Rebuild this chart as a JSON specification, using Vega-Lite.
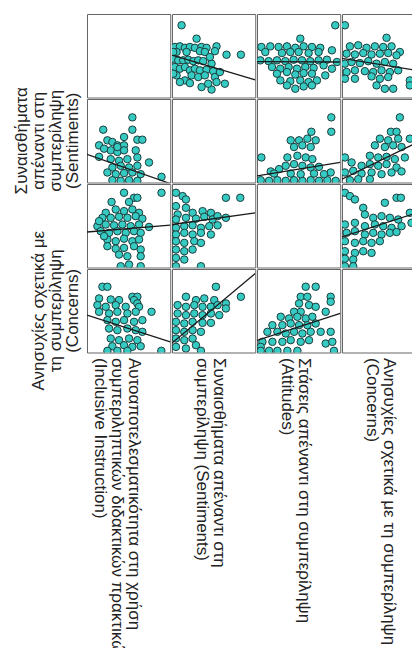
{
  "$schema": "https://vega.github.io/schema/vega-lite/v6.json",
  "background": "white",
  "padding": {"left": 13, "top": 13, "right": 0, "bottom": 0},
  "data": {
    "values": [
      {"r":1,"c":2,"x":1.46,"y":4.46},{"r":1,"c":2,"x":2.18,"y":3.82},{"r":1,"c":2,"x":1.14,"y":3.42},{"r":1,"c":2,"x":1.38,"y":3.45},{"r":1,"c":2,"x":1.62,"y":3.38},{"r":1,"c":2,"x":1.86,"y":3.42},{"r":1,"c":2,"x":2.10,"y":3.38},{"r":1,"c":2,"x":2.42,"y":3.42},{"r":1,"c":2,"x":2.66,"y":3.38},{"r":1,"c":2,"x":3.14,"y":3.45},{"r":1,"c":2,"x":1.22,"y":3.18},{"r":1,"c":2,"x":1.70,"y":3.18},{"r":1,"c":2,"x":2.34,"y":3.22},{"r":1,"c":2,"x":2.58,"y":3.18},{"r":1,"c":2,"x":3.06,"y":3.22},{"r":1,"c":2,"x":3.62,"y":3.05},{"r":1,"c":2,"x":4.31,"y":3.05},{"r":1,"c":2,"x":1.06,"y":2.86},{"r":1,"c":2,"x":1.30,"y":2.78},{"r":1,"c":2,"x":1.54,"y":2.78},{"r":1,"c":2,"x":1.78,"y":2.81},{"r":1,"c":2,"x":2.02,"y":2.74},{"r":1,"c":2,"x":2.26,"y":2.78},{"r":1,"c":2,"x":2.50,"y":2.74},{"r":1,"c":2,"x":2.90,"y":2.62},{"r":1,"c":2,"x":1.14,"y":2.46},{"r":1,"c":2,"x":1.38,"y":2.38},{"r":1,"c":2,"x":1.62,"y":2.46},{"r":1,"c":2,"x":1.86,"y":2.30},{"r":1,"c":2,"x":2.10,"y":2.38},{"r":1,"c":2,"x":2.34,"y":2.30},{"r":1,"c":2,"x":2.66,"y":2.33},{"r":1,"c":2,"x":2.98,"y":2.26},{"r":1,"c":2,"x":1.22,"y":2.06},{"r":1,"c":2,"x":1.62,"y":1.82},{"r":1,"c":2,"x":1.94,"y":2.06},{"r":1,"c":2,"x":2.26,"y":1.98},{"r":1,"c":2,"x":2.58,"y":2.06},{"r":1,"c":2,"x":3.06,"y":1.98},{"r":1,"c":2,"x":3.14,"y":1.74},{"r":1,"c":2,"x":3.54,"y":1.66},{"r":1,"c":2,"x":2.42,"y":1.50},{"r":1,"c":2,"x":2.90,"y":1.38},{"r":1,"c":2,"x":1.38,"y":1.74},{"r":1,"c":2,"x":1.86,"y":1.69},{"r":1,"c":2,"x":2.74,"y":1.66},{"r":1,"c":2,"x":1.06,"y":3.18},{"r":1,"c":2,"x":1.06,"y":2.14},{"r":1,"c":2,"x":2.82,"y":2.94},{"r":1,"c":2,"x":3.30,"y":2.22},
      {"r":1,"c":2,"f":1,"x":1,"y":3.03},{"r":1,"c":2,"f":1,"x":5,"y":1.85},

      {"r":1,"c":3,"x":4.76,"y":4.46},{"r":1,"c":3,"x":3.08,"y":3.82},{"r":1,"c":3,"x":1.21,"y":3.42},{"r":1,"c":3,"x":1.64,"y":3.45},{"r":1,"c":3,"x":2.04,"y":3.42},{"r":1,"c":3,"x":2.44,"y":3.45},{"r":1,"c":3,"x":2.84,"y":3.38},{"r":1,"c":3,"x":3.24,"y":3.45},{"r":1,"c":3,"x":3.64,"y":3.42},{"r":1,"c":3,"x":4.04,"y":3.38},{"r":1,"c":3,"x":4.60,"y":3.26},{"r":1,"c":3,"x":1.40,"y":3.18},{"r":1,"c":3,"x":2.20,"y":3.13},{"r":1,"c":3,"x":2.60,"y":3.18},{"r":1,"c":3,"x":3.00,"y":3.18},{"r":1,"c":3,"x":3.48,"y":3.13},{"r":1,"c":3,"x":3.96,"y":3.18},{"r":1,"c":3,"x":1.16,"y":2.78},{"r":1,"c":3,"x":1.56,"y":2.74},{"r":1,"c":3,"x":1.96,"y":2.78},{"r":1,"c":3,"x":2.36,"y":2.74},{"r":1,"c":3,"x":2.76,"y":2.81},{"r":1,"c":3,"x":3.16,"y":2.78},{"r":1,"c":3,"x":3.56,"y":2.74},{"r":1,"c":3,"x":3.96,"y":2.78},{"r":1,"c":3,"x":4.36,"y":2.81},{"r":1,"c":3,"x":4.84,"y":2.70},{"r":1,"c":3,"x":1.72,"y":2.46},{"r":1,"c":3,"x":2.12,"y":2.38},{"r":1,"c":3,"x":2.52,"y":2.46},{"r":1,"c":3,"x":2.92,"y":2.38},{"r":1,"c":3,"x":3.32,"y":2.46},{"r":1,"c":3,"x":3.72,"y":2.42},{"r":1,"c":3,"x":4.20,"y":2.54},{"r":1,"c":3,"x":4.60,"y":2.38},{"r":1,"c":3,"x":1.96,"y":2.14},{"r":1,"c":3,"x":2.44,"y":2.22},{"r":1,"c":3,"x":2.84,"y":2.10},{"r":1,"c":3,"x":3.24,"y":2.17},{"r":1,"c":3,"x":3.64,"y":2.14},{"r":1,"c":3,"x":4.28,"y":2.06},{"r":1,"c":3,"x":2.12,"y":1.82},{"r":1,"c":3,"x":2.60,"y":1.78},{"r":1,"c":3,"x":3.08,"y":1.82},{"r":1,"c":3,"x":3.48,"y":1.74},{"r":1,"c":3,"x":3.88,"y":1.82},{"r":1,"c":3,"x":2.44,"y":1.58},{"r":1,"c":3,"x":2.84,"y":1.42},{"r":1,"c":3,"x":3.24,"y":1.53},{"r":1,"c":3,"x":3.64,"y":1.58},
      {"r":1,"c":3,"f":1,"x":1,"y":2.72},{"r":1,"c":3,"f":1,"x":5,"y":2.70},

      {"r":1,"c":4,"x":1.14,"y":4.46},{"r":1,"c":4,"x":3.14,"y":3.86},{"r":1,"c":4,"x":1.38,"y":3.45},{"r":1,"c":4,"x":1.78,"y":3.50},{"r":1,"c":4,"x":2.18,"y":3.38},{"r":1,"c":4,"x":2.58,"y":3.45},{"r":1,"c":4,"x":2.98,"y":3.42},{"r":1,"c":4,"x":3.38,"y":3.45},{"r":1,"c":4,"x":3.78,"y":3.18},{"r":1,"c":4,"x":1.22,"y":3.10},{"r":1,"c":4,"x":1.62,"y":3.06},{"r":1,"c":4,"x":2.02,"y":3.13},{"r":1,"c":4,"x":2.42,"y":3.06},{"r":1,"c":4,"x":2.82,"y":3.10},{"r":1,"c":4,"x":3.22,"y":3.13},{"r":1,"c":4,"x":3.62,"y":3.02},{"r":1,"c":4,"x":1.14,"y":2.62},{"r":1,"c":4,"x":1.46,"y":2.70},{"r":1,"c":4,"x":1.86,"y":2.65},{"r":1,"c":4,"x":2.26,"y":2.74},{"r":1,"c":4,"x":2.66,"y":2.62},{"r":1,"c":4,"x":3.06,"y":2.70},{"r":1,"c":4,"x":3.46,"y":2.62},{"r":1,"c":4,"x":1.22,"y":2.22},{"r":1,"c":4,"x":1.62,"y":2.30},{"r":1,"c":4,"x":2.10,"y":2.26},{"r":1,"c":4,"x":2.50,"y":2.22},{"r":1,"c":4,"x":2.90,"y":2.30},{"r":1,"c":4,"x":3.30,"y":2.22},{"r":1,"c":4,"x":3.70,"y":2.30},{"r":1,"c":4,"x":1.14,"y":1.90},{"r":1,"c":4,"x":1.62,"y":1.90},{"r":1,"c":4,"x":2.42,"y":2.01},{"r":1,"c":4,"x":2.82,"y":1.90},{"r":1,"c":4,"x":3.22,"y":1.98},{"r":1,"c":4,"x":2.66,"y":1.58},{"r":1,"c":4,"x":3.06,"y":1.42},{"r":1,"c":4,"x":3.46,"y":1.42},{"r":1,"c":4,"x":4.26,"y":1.82},{"r":1,"c":4,"x":4.26,"y":1.58},
      {"r":1,"c":4,"f":1,"x":1,"y":2.87},{"r":1,"c":4,"f":1,"x":5,"y":2.23},

      {"r":2,"c":1,"x":3.18,"y":4.12},{"r":2,"c":1,"x":1.78,"y":3.53},{"r":2,"c":1,"x":3.18,"y":3.53},{"r":2,"c":1,"x":3.42,"y":3.05},{"r":2,"c":1,"x":3.66,"y":3.05},{"r":2,"c":1,"x":1.58,"y":2.78},{"r":2,"c":1,"x":1.98,"y":3.02},{"r":2,"c":1,"x":2.22,"y":2.94},{"r":2,"c":1,"x":2.46,"y":2.78},{"r":2,"c":1,"x":2.78,"y":2.78},{"r":2,"c":1,"x":1.58,"y":2.23},{"r":2,"c":1,"x":2.14,"y":2.54},{"r":2,"c":1,"x":2.46,"y":2.46},{"r":2,"c":1,"x":2.78,"y":2.54},{"r":2,"c":1,"x":3.34,"y":2.54},{"r":2,"c":1,"x":2.14,"y":2.12},{"r":2,"c":1,"x":2.54,"y":2.04},{"r":2,"c":1,"x":2.94,"y":2.12},{"r":2,"c":1,"x":3.42,"y":2.20},{"r":2,"c":1,"x":3.98,"y":1.96},{"r":2,"c":1,"x":2.22,"y":1.72},{"r":2,"c":1,"x":2.62,"y":1.80},{"r":2,"c":1,"x":3.02,"y":1.72},{"r":2,"c":1,"x":3.42,"y":1.80},{"r":2,"c":1,"x":1.98,"y":1.48},{"r":2,"c":1,"x":2.38,"y":1.40},{"r":2,"c":1,"x":2.78,"y":1.45},{"r":2,"c":1,"x":3.18,"y":1.48},{"r":2,"c":1,"x":3.58,"y":1.40},{"r":2,"c":1,"x":2.22,"y":1.11},{"r":2,"c":1,"x":2.62,"y":1.08},{"r":2,"c":1,"x":3.02,"y":1.11},{"r":2,"c":1,"x":3.42,"y":1.08},{"r":2,"c":1,"x":4.58,"y":1.27},{"r":2,"c":1,"x":1.82,"y":2.62},{"r":2,"c":1,"x":2.46,"y":2.70},{"r":2,"c":1,"x":2.78,"y":3.18},
      {"r":2,"c":1,"f":1,"x":1,"y":2.35},{"r":2,"c":1,"f":1,"x":5,"y":0.95},

      {"r":2,"c":3,"x":4.57,"y":4.12},{"r":2,"c":3,"x":4.57,"y":3.43},{"r":2,"c":3,"x":3.61,"y":3.43},{"r":2,"c":3,"x":1.21,"y":2.20},{"r":2,"c":3,"x":2.62,"y":3.02},{"r":2,"c":3,"x":3.02,"y":3.02},{"r":2,"c":3,"x":3.42,"y":3.10},{"r":2,"c":3,"x":3.82,"y":3.02},{"r":2,"c":3,"x":2.78,"y":2.70},{"r":2,"c":3,"x":3.18,"y":2.78},{"r":2,"c":3,"x":3.58,"y":2.70},{"r":2,"c":3,"x":2.46,"y":2.20},{"r":2,"c":3,"x":2.94,"y":2.28},{"r":2,"c":3,"x":3.34,"y":2.20},{"r":2,"c":3,"x":3.66,"y":2.12},{"r":2,"c":3,"x":1.66,"y":1.53},{"r":2,"c":3,"x":2.06,"y":1.64},{"r":2,"c":3,"x":2.38,"y":1.80},{"r":2,"c":3,"x":2.78,"y":1.88},{"r":2,"c":3,"x":3.18,"y":1.80},{"r":2,"c":3,"x":3.58,"y":1.72},{"r":2,"c":3,"x":3.98,"y":1.75},{"r":2,"c":3,"x":4.54,"y":1.48},{"r":2,"c":3,"x":1.18,"y":1.11},{"r":2,"c":3,"x":1.58,"y":1.08},{"r":2,"c":3,"x":1.98,"y":1.11},{"r":2,"c":3,"x":2.38,"y":1.08},{"r":2,"c":3,"x":2.78,"y":1.11},{"r":2,"c":3,"x":3.18,"y":1.08},{"r":2,"c":3,"x":3.58,"y":1.11},{"r":2,"c":3,"x":3.98,"y":1.08},{"r":2,"c":3,"x":4.38,"y":1.11},{"r":2,"c":3,"x":4.78,"y":1.08},{"r":2,"c":3,"x":1.82,"y":1.43},{"r":2,"c":3,"x":2.62,"y":1.43},{"r":2,"c":3,"x":3.10,"y":1.40},{"r":2,"c":3,"x":3.74,"y":1.43},{"r":2,"c":3,"x":4.22,"y":1.40},
      {"r":2,"c":3,"f":1,"x":1,"y":1.32},{"r":2,"c":3,"f":1,"x":5,"y":1.96},

      {"r":2,"c":4,"x":3.78,"y":4.12},{"r":2,"c":4,"x":3.35,"y":3.43},{"r":2,"c":4,"x":3.62,"y":3.43},{"r":2,"c":4,"x":4.26,"y":3.10},{"r":2,"c":4,"x":2.82,"y":3.10},{"r":2,"c":4,"x":3.22,"y":3.02},{"r":2,"c":4,"x":3.70,"y":3.10},{"r":2,"c":4,"x":2.58,"y":2.78},{"r":2,"c":4,"x":3.06,"y":2.70},{"r":2,"c":4,"x":3.46,"y":2.78},{"r":2,"c":4,"x":3.86,"y":2.70},{"r":2,"c":4,"x":1.14,"y":2.20},{"r":2,"c":4,"x":1.46,"y":1.96},{"r":2,"c":4,"x":2.34,"y":2.28},{"r":2,"c":4,"x":2.74,"y":2.20},{"r":2,"c":4,"x":3.14,"y":2.23},{"r":2,"c":4,"x":3.54,"y":2.12},{"r":2,"c":4,"x":4.02,"y":2.20},{"r":2,"c":4,"x":1.94,"y":1.80},{"r":2,"c":4,"x":2.34,"y":1.88},{"r":2,"c":4,"x":2.74,"y":1.80},{"r":2,"c":4,"x":3.14,"y":1.88},{"r":2,"c":4,"x":3.62,"y":1.72},{"r":2,"c":4,"x":1.14,"y":1.48},{"r":2,"c":4,"x":1.54,"y":1.56},{"r":2,"c":4,"x":1.94,"y":1.43},{"r":2,"c":4,"x":2.42,"y":1.48},{"r":2,"c":4,"x":2.90,"y":1.40},{"r":2,"c":4,"x":3.38,"y":1.48},{"r":2,"c":4,"x":3.86,"y":1.53},{"r":2,"c":4,"x":1.38,"y":1.11},{"r":2,"c":4,"x":1.78,"y":1.16},{"r":2,"c":4,"x":2.34,"y":1.16},
      {"r":2,"c":4,"f":1,"x":1,"y":1.16},{"r":2,"c":4,"f":1,"x":5,"y":3.11},

      {"r":3,"c":1,"x":2.78,"y":4.58},{"r":3,"c":1,"x":3.26,"y":4.34},{"r":3,"c":1,"x":3.42,"y":4.34},{"r":3,"c":1,"x":2.18,"y":4.14},{"r":3,"c":1,"x":3.02,"y":4.14},{"r":3,"c":1,"x":1.90,"y":3.62},{"r":3,"c":1,"x":2.38,"y":3.78},{"r":3,"c":1,"x":2.78,"y":3.70},{"r":3,"c":1,"x":3.18,"y":3.78},{"r":3,"c":1,"x":3.50,"y":3.62},{"r":3,"c":1,"x":1.74,"y":3.38},{"r":3,"c":1,"x":2.14,"y":3.38},{"r":3,"c":1,"x":2.54,"y":3.43},{"r":3,"c":1,"x":2.94,"y":3.38},{"r":3,"c":1,"x":3.34,"y":3.46},{"r":3,"c":1,"x":3.66,"y":3.34},{"r":3,"c":1,"x":1.50,"y":2.98},{"r":3,"c":1,"x":1.90,"y":3.06},{"r":3,"c":1,"x":2.30,"y":3.02},{"r":3,"c":1,"x":2.70,"y":3.06},{"r":3,"c":1,"x":3.10,"y":2.98},{"r":3,"c":1,"x":3.50,"y":3.06},{"r":3,"c":1,"x":3.98,"y":2.94},{"r":3,"c":1,"x":1.66,"y":2.74},{"r":3,"c":1,"x":2.06,"y":2.66},{"r":3,"c":1,"x":2.46,"y":2.74},{"r":3,"c":1,"x":2.86,"y":2.66},{"r":3,"c":1,"x":3.26,"y":2.74},{"r":3,"c":1,"x":3.58,"y":2.66},{"r":3,"c":1,"x":1.98,"y":2.34},{"r":3,"c":1,"x":2.38,"y":2.26},{"r":3,"c":1,"x":2.78,"y":2.38},{"r":3,"c":1,"x":3.18,"y":2.26},{"r":3,"c":1,"x":3.50,"y":2.34},{"r":3,"c":1,"x":1.98,"y":2.02},{"r":3,"c":1,"x":2.38,"y":1.90},{"r":3,"c":1,"x":2.78,"y":1.94},{"r":3,"c":1,"x":3.26,"y":2.02},{"r":3,"c":1,"x":3.58,"y":1.86},{"r":3,"c":1,"x":2.54,"y":1.62},{"r":3,"c":1,"x":2.94,"y":1.54},{"r":3,"c":1,"x":3.58,"y":1.54},{"r":3,"c":1,"x":2.62,"y":1.06},{"r":3,"c":1,"x":3.02,"y":1.14},{"r":3,"c":1,"x":3.58,"y":1.06},{"r":3,"c":1,"x":4.58,"y":4.58},{"r":3,"c":1,"x":1.58,"y":3.22},{"r":3,"c":1,"x":1.82,"y":2.50},
      {"r":3,"c":1,"f":1,"x":1,"y":2.70},{"r":3,"c":1,"f":1,"x":5,"y":3.03},

      {"r":3,"c":2,"x":1.19,"y":4.58},{"r":3,"c":2,"x":1.51,"y":4.42},{"r":3,"c":2,"x":1.67,"y":4.26},{"r":3,"c":2,"x":3.59,"y":4.34},{"r":3,"c":2,"x":4.28,"y":4.34},{"r":3,"c":2,"x":1.19,"y":3.94},{"r":3,"c":2,"x":1.67,"y":3.86},{"r":3,"c":2,"x":1.27,"y":3.54},{"r":3,"c":2,"x":1.99,"y":3.62},{"r":3,"c":2,"x":2.47,"y":3.70},{"r":3,"c":2,"x":2.87,"y":3.62},{"r":3,"c":2,"x":3.59,"y":3.38},{"r":3,"c":2,"x":1.19,"y":3.30},{"r":3,"c":2,"x":1.67,"y":3.38},{"r":3,"c":2,"x":2.15,"y":3.34},{"r":3,"c":2,"x":2.55,"y":3.43},{"r":3,"c":2,"x":2.95,"y":3.30},{"r":3,"c":2,"x":3.19,"y":3.46},{"r":3,"c":2,"x":1.19,"y":2.90},{"r":3,"c":2,"x":1.59,"y":2.98},{"r":3,"c":2,"x":1.99,"y":3.02},{"r":3,"c":2,"x":2.39,"y":2.90},{"r":3,"c":2,"x":2.79,"y":2.98},{"r":3,"c":2,"x":3.19,"y":3.02},{"r":3,"c":2,"x":1.19,"y":2.58},{"r":3,"c":2,"x":1.59,"y":2.66},{"r":3,"c":2,"x":1.99,"y":2.58},{"r":3,"c":2,"x":2.39,"y":2.66},{"r":3,"c":2,"x":2.87,"y":2.58},{"r":3,"c":2,"x":1.19,"y":2.26},{"r":3,"c":2,"x":1.59,"y":2.18},{"r":3,"c":2,"x":2.07,"y":2.26},{"r":3,"c":2,"x":2.39,"y":2.18},{"r":3,"c":2,"x":1.19,"y":1.86},{"r":3,"c":2,"x":1.59,"y":1.78},{"r":3,"c":2,"x":1.99,"y":1.86},{"r":3,"c":2,"x":1.19,"y":1.46},{"r":3,"c":2,"x":1.59,"y":1.38},{"r":3,"c":2,"x":1.19,"y":1.06},{"r":3,"c":2,"x":2.39,"y":1.06},
      {"r":3,"c":2,"f":1,"x":1,"y":3.06},{"r":3,"c":2,"f":1,"x":5,"y":3.62},

      {"r":3,"c":4,"x":1.14,"y":4.58},{"r":3,"c":4,"x":1.38,"y":4.42},{"r":3,"c":4,"x":3.62,"y":4.34},{"r":3,"c":4,"x":3.83,"y":4.34},{"r":3,"c":4,"x":1.62,"y":4.26},{"r":3,"c":4,"x":2.02,"y":3.86},{"r":3,"c":4,"x":2.10,"y":3.54},{"r":3,"c":4,"x":3.06,"y":4.10},{"r":3,"c":4,"x":2.50,"y":3.38},{"r":3,"c":4,"x":2.90,"y":3.46},{"r":3,"c":4,"x":3.30,"y":3.38},{"r":3,"c":4,"x":3.70,"y":3.30},{"r":3,"c":4,"x":4.26,"y":3.62},{"r":3,"c":4,"x":4.34,"y":3.14},{"r":3,"c":4,"x":1.14,"y":3.06},{"r":3,"c":4,"x":1.62,"y":3.14},{"r":3,"c":4,"x":2.10,"y":2.98},{"r":3,"c":4,"x":2.58,"y":3.06},{"r":3,"c":4,"x":2.98,"y":2.98},{"r":3,"c":4,"x":3.38,"y":2.90},{"r":3,"c":4,"x":3.86,"y":2.98},{"r":3,"c":4,"x":1.22,"y":2.66},{"r":3,"c":4,"x":1.62,"y":2.74},{"r":3,"c":4,"x":2.10,"y":2.58},{"r":3,"c":4,"x":2.50,"y":2.66},{"r":3,"c":4,"x":2.90,"y":2.58},{"r":3,"c":4,"x":3.30,"y":2.66},{"r":3,"c":4,"x":3.62,"y":2.70},{"r":3,"c":4,"x":1.14,"y":2.26},{"r":3,"c":4,"x":1.62,"y":2.18},{"r":3,"c":4,"x":2.02,"y":2.26},{"r":3,"c":4,"x":2.42,"y":2.18},{"r":3,"c":4,"x":2.82,"y":2.26},{"r":3,"c":4,"x":1.14,"y":1.78},{"r":3,"c":4,"x":1.62,"y":1.70},{"r":3,"c":4,"x":2.02,"y":1.78},{"r":3,"c":4,"x":2.42,"y":1.70},{"r":3,"c":4,"x":1.14,"y":1.42},{"r":3,"c":4,"x":1.54,"y":1.38},{"r":3,"c":4,"x":1.14,"y":1.06},{"r":3,"c":4,"x":1.54,"y":1.06},
      {"r":3,"c":4,"f":1,"x":1,"y":2.47},{"r":3,"c":4,"f":1,"x":5,"y":3.75},

      {"r":4,"c":1,"x":1.74,"y":4.15},{"r":4,"c":1,"x":1.98,"y":4.15},{"r":4,"c":1,"x":1.58,"y":3.59},{"r":4,"c":1,"x":2.14,"y":3.54},{"r":4,"c":1,"x":2.54,"y":3.51},{"r":4,"c":1,"x":3.18,"y":3.67},{"r":4,"c":1,"x":3.42,"y":3.67},{"r":4,"c":1,"x":3.26,"y":3.51},{"r":4,"c":1,"x":1.50,"y":3.27},{"r":4,"c":1,"x":1.90,"y":3.19},{"r":4,"c":1,"x":2.38,"y":3.27},{"r":4,"c":1,"x":2.86,"y":3.19},{"r":4,"c":1,"x":3.42,"y":3.35},{"r":4,"c":1,"x":3.50,"y":3.19},{"r":4,"c":1,"x":4.10,"y":2.95},{"r":4,"c":1,"x":1.58,"y":2.95},{"r":4,"c":1,"x":2.06,"y":2.87},{"r":4,"c":1,"x":2.46,"y":2.95},{"r":4,"c":1,"x":2.94,"y":2.87},{"r":4,"c":1,"x":3.34,"y":2.95},{"r":4,"c":1,"x":1.98,"y":2.55},{"r":4,"c":1,"x":2.38,"y":2.47},{"r":4,"c":1,"x":2.78,"y":2.55},{"r":4,"c":1,"x":3.26,"y":2.47},{"r":4,"c":1,"x":3.66,"y":2.55},{"r":4,"c":1,"x":2.06,"y":2.15},{"r":4,"c":1,"x":2.46,"y":2.07},{"r":4,"c":1,"x":2.94,"y":2.15},{"r":4,"c":1,"x":3.34,"y":2.07},{"r":4,"c":1,"x":3.66,"y":1.99},{"r":4,"c":1,"x":2.14,"y":1.67},{"r":4,"c":1,"x":2.54,"y":1.59},{"r":4,"c":1,"x":3.02,"y":1.67},{"r":4,"c":1,"x":3.42,"y":1.59},{"r":4,"c":1,"x":2.22,"y":1.30},{"r":4,"c":1,"x":2.78,"y":1.35},{"r":4,"c":1,"x":3.18,"y":1.27},{"r":4,"c":1,"x":3.58,"y":1.30},{"r":4,"c":1,"x":1.98,"y":1.08},{"r":4,"c":1,"x":2.46,"y":1.08},{"r":4,"c":1,"x":2.94,"y":1.08},{"r":4,"c":1,"x":4.57,"y":1.08},
      {"r":4,"c":1,"f":1,"x":1,"y":2.79},{"r":4,"c":1,"f":1,"x":5,"y":1.51},

      {"r":4,"c":2,"x":3.11,"y":4.15},{"r":4,"c":2,"x":4.31,"y":3.67},{"r":4,"c":2,"x":1.67,"y":3.67},{"r":4,"c":2,"x":2.15,"y":3.51},{"r":4,"c":2,"x":2.55,"y":3.59},{"r":4,"c":2,"x":3.03,"y":3.51},{"r":4,"c":2,"x":3.59,"y":3.35},{"r":4,"c":2,"x":3.59,"y":3.11},{"r":4,"c":2,"x":1.27,"y":3.27},{"r":4,"c":2,"x":1.67,"y":3.19},{"r":4,"c":2,"x":2.07,"y":3.27},{"r":4,"c":2,"x":2.47,"y":3.19},{"r":4,"c":2,"x":2.87,"y":3.19},{"r":4,"c":2,"x":3.19,"y":3.27},{"r":4,"c":2,"x":1.27,"y":2.87},{"r":4,"c":2,"x":1.67,"y":2.79},{"r":4,"c":2,"x":2.07,"y":2.87},{"r":4,"c":2,"x":2.47,"y":2.79},{"r":4,"c":2,"x":2.87,"y":2.87},{"r":4,"c":2,"x":3.27,"y":2.79},{"r":4,"c":2,"x":1.19,"y":2.47},{"r":4,"c":2,"x":1.59,"y":2.39},{"r":4,"c":2,"x":1.99,"y":2.47},{"r":4,"c":2,"x":2.47,"y":2.42},{"r":4,"c":2,"x":2.87,"y":2.42},{"r":4,"c":2,"x":1.19,"y":2.07},{"r":4,"c":2,"x":1.59,"y":1.99},{"r":4,"c":2,"x":1.99,"y":2.07},{"r":4,"c":2,"x":2.39,"y":1.99},{"r":4,"c":2,"x":1.19,"y":1.67},{"r":4,"c":2,"x":1.59,"y":1.59},{"r":4,"c":2,"x":1.99,"y":1.67},{"r":4,"c":2,"x":1.19,"y":1.27},{"r":4,"c":2,"x":1.67,"y":1.19},{"r":4,"c":2,"x":2.15,"y":1.35},{"r":4,"c":2,"x":2.39,"y":1.08},
      {"r":4,"c":2,"f":1,"x":1,"y":1.45},{"r":4,"c":2,"f":1,"x":5,"y":4.78},

      {"r":4,"c":3,"x":3.34,"y":4.15},{"r":4,"c":3,"x":3.82,"y":4.15},{"r":4,"c":3,"x":4.54,"y":3.67},{"r":4,"c":3,"x":4.54,"y":3.43},{"r":4,"c":3,"x":3.10,"y":3.67},{"r":4,"c":3,"x":3.42,"y":3.67},{"r":4,"c":3,"x":3.02,"y":3.35},{"r":4,"c":3,"x":3.50,"y":3.27},{"r":4,"c":3,"x":3.82,"y":3.19},{"r":4,"c":3,"x":3.10,"y":2.95},{"r":4,"c":3,"x":2.78,"y":2.95},{"r":4,"c":3,"x":4.30,"y":2.95},{"r":4,"c":3,"x":2.14,"y":2.71},{"r":4,"c":3,"x":2.54,"y":2.63},{"r":4,"c":3,"x":2.94,"y":2.71},{"r":4,"c":3,"x":3.34,"y":2.63},{"r":4,"c":3,"x":3.66,"y":2.71},{"r":4,"c":3,"x":1.74,"y":2.31},{"r":4,"c":3,"x":2.22,"y":2.31},{"r":4,"c":3,"x":2.62,"y":2.39},{"r":4,"c":3,"x":3.02,"y":2.31},{"r":4,"c":3,"x":3.42,"y":2.31},{"r":4,"c":3,"x":3.82,"y":2.39},{"r":4,"c":3,"x":1.50,"y":1.99},{"r":4,"c":3,"x":1.98,"y":1.99},{"r":4,"c":3,"x":2.38,"y":1.91},{"r":4,"c":3,"x":2.78,"y":1.99},{"r":4,"c":3,"x":3.18,"y":1.91},{"r":4,"c":3,"x":3.58,"y":1.99},{"r":4,"c":3,"x":4.06,"y":1.99},{"r":4,"c":3,"x":4.54,"y":1.99},{"r":4,"c":3,"x":1.26,"y":1.51},{"r":4,"c":3,"x":1.74,"y":1.51},{"r":4,"c":3,"x":2.22,"y":1.51},{"r":4,"c":3,"x":2.62,"y":1.59},{"r":4,"c":3,"x":3.10,"y":1.51},{"r":4,"c":3,"x":3.50,"y":1.59},{"r":4,"c":3,"x":4.30,"y":1.43},{"r":4,"c":3,"x":4.62,"y":1.51},{"r":4,"c":3,"x":1.18,"y":1.27},{"r":4,"c":3,"x":1.58,"y":1.08},{"r":4,"c":3,"x":1.98,"y":1.08},{"r":4,"c":3,"x":2.46,"y":1.08},{"r":4,"c":3,"x":2.94,"y":1.08},{"r":4,"c":3,"x":4.70,"y":1.08},{"r":4,"c":3,"x":1.18,"y":1.08},
      {"r":4,"c":3,"f":1,"x":1,"y":1.58},{"r":4,"c":3,"f":1,"x":5,"y":2.87}
    ]
  },
  "spacing": 0,
  "facet": {
    "row": {
      "field": "r",
      "type": "ordinal",
      "title": null,
      "header": {
        "labelOrient": "left",
        "labelAngle": -90,
        "labelAlign": "center",
        "labelBaseline": "bottom",
        "labelPadding": -13,
        "labelFont": "Liberation Sans",
        "labelFontSize": 17,
        "labelLineHeight": 17,
        "labelColor": "#222222",
        "labelLimit": 0,
        "labelExpr": "datum.value == 2 ? ['Συναισθήματα', 'απέναντι στη', 'συμπερίληψη', '(Sentiments)'] : datum.value == 4 ? ['Ανησυχίες σχετικά με', 'τη συμπερίληψη', '(Concerns)'] : ''"
      }
    },
    "column": {
      "field": "c",
      "type": "ordinal",
      "title": null,
      "header": {
        "labelOrient": "bottom",
        "labelAngle": 90,
        "labelAlign": "left",
        "labelBaseline": "alphabetic",
        "labelPadding": 5,
        "labelFont": "Liberation Sans",
        "labelFontSize": 17,
        "labelLineHeight": 17,
        "labelColor": "#222222",
        "labelLimit": 0,
        "labelExpr": "datum.value == 1 ? ['Αυτοαποτελεσματικότητα στη χρήση', 'συμπεριληπτικών διδακτικών πρακτικών', '(Inclusive Instruction)'] : datum.value == 2 ? ['Συναισθήματα απέναντι στη', 'συμπερίληψη (Sentiments)'] : datum.value == 3 ? ['Στάσεις απέναντι στη συμπερίληψη', '(Attitudes)'] : ['Ανησυχίες σχετικά με τη συμπερίληψη', '(Concerns)']"
      }
    }
  },
  "spec": {
    "width": 83.25,
    "height": 83.5,
    "encoding": {
      "x": {"field": "x", "type": "quantitative", "axis": null, "scale": {"domain": [1, 5], "nice": false, "zero": false}},
      "y": {"field": "y", "type": "quantitative", "axis": null, "scale": {"domain": [1, 5], "nice": false, "zero": false}}
    },
    "layer": [
      {
        "transform": [{"filter": "!datum.f"}],
        "mark": {"type": "point", "shape": "circle", "filled": true, "clip": true, "size": 56, "fill": "#35cbc3", "stroke": "#1d3d3d", "strokeWidth": 1, "opacity": 1}
      },
      {
        "transform": [{"filter": "datum.f == 1"}],
        "mark": {"type": "line", "clip": true, "color": "#1a1a1a", "strokeWidth": 1.3}
      }
    ]
  },
  "config": {
    "view": {"stroke": "#666666", "strokeWidth": 1},
    "font": "Liberation Sans"
  }
}
